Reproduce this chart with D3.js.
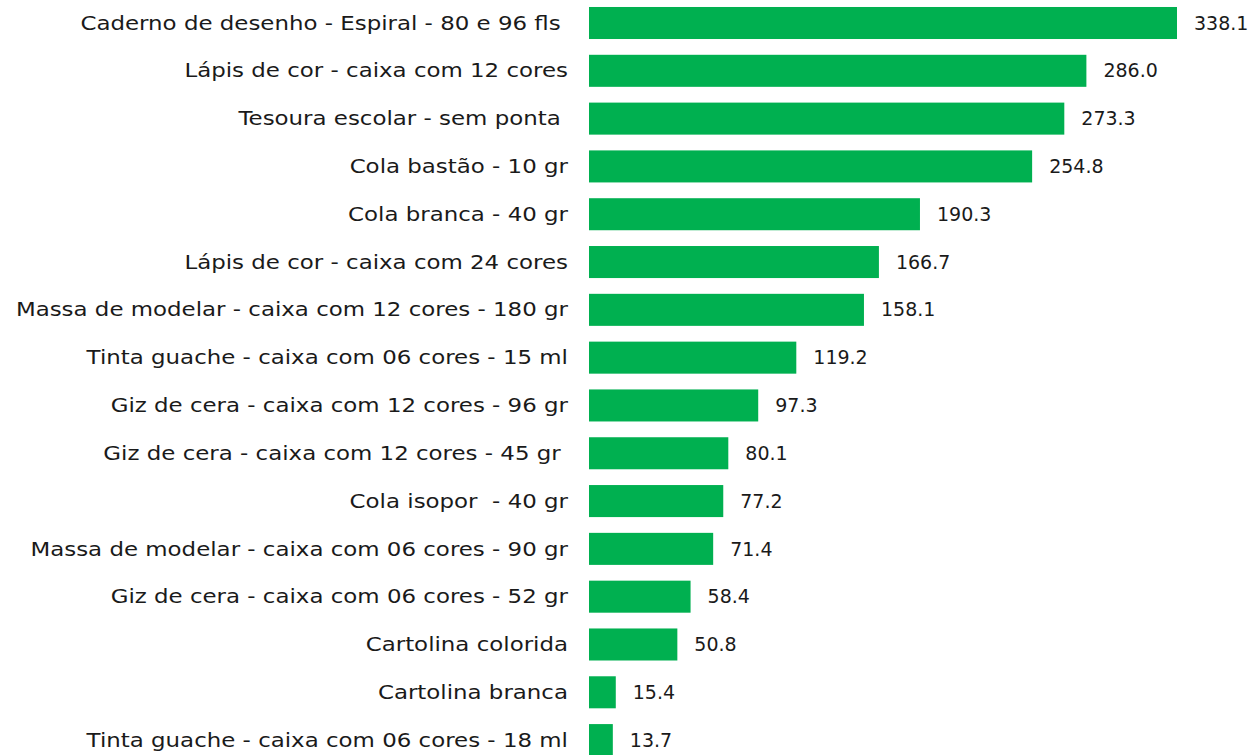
<!DOCTYPE html>
<html>
<head>
<meta charset="utf-8">
<script src="https://cdn.jsdelivr.net/npm/d3@7"></script>
<style>
  body { margin: 0; background: #fff; }
  text { font-family: "Century Gothic", "DejaVu Sans", sans-serif; fill: #1a1a1a; }
</style>
</head>
<body>
<svg id="chart" width="1256" height="755"></svg>
<script>
//categories and values (trailing spaces kept as in source)
var items = [
	'Caderno de desenho - Espiral - 80 e 96 fls ',
	'Lápis de cor - caixa com 12 cores',
	'Tesoura escolar - sem ponta ',
	'Cola bastão - 10 gr',
	'Cola branca - 40 gr',
	'Lápis de cor - caixa com 24 cores',
	'Massa de modelar - caixa com 12 cores - 180 gr',
	'Tinta guache - caixa com 06 cores - 15 ml',
	'Giz de cera - caixa com 12 cores - 96 gr',
	'Giz de cera - caixa com 12 cores - 45 gr ',
	'Cola isopor  - 40 gr',
	'Massa de modelar - caixa com 06 cores - 90 gr',
	'Giz de cera - caixa com 06 cores - 52 gr',
	'Cartolina colorida',
	'Cartolina branca',
	'Tinta guache - caixa com 06 cores - 18 ml'
];
var values = [338.1, 286.0, 273.3, 254.8, 190.3, 166.7, 158.1, 119.2, 97.3, 80.1, 77.2, 71.4, 58.4, 50.8, 15.4, 13.7];

var data = items.map(function(d, i) { return {name: d, value: values[i]}; });

var fv = {
	'barLeft': 589,
	'barRight': 1177,
	'top': -0.9,
	'bottom': 764,
	'stretch': 1.205 //fallback font is narrower than the wide original face
};

var svg = d3.select('#chart');

var x = d3.scaleLinear()
	.domain([0, 338.1])
	.range([fv.barLeft, fv.barRight]);

var y = d3.scaleBand()
	.domain(items)
	.range([fv.top, fv.bottom])
	.paddingInner(0.33)
	.paddingOuter(0.165);

//bars
svg.selectAll('.bar')
	.data(data)
	.enter().append('rect')
	.attr('class', 'bar')
	.attr('x', x(0))
	.attr('y', function(d) { return y(d.name); })
	.attr('width', function(d) { return x(d.value) - x(0); })
	.attr('height', y.bandwidth())
	.style('fill', '#00b050');

//category labels
svg.selectAll('.cat')
	.data(data)
	.enter().append('text')
	.attr('class', 'cat')
	.attr('x', x(0) - 21)
	.attr('y', function(d) { return y(d.name) + y.bandwidth() / 2; })
	.attr('dy', '0.35em')
	.attr('text-anchor', 'end')
	.style('font-size', '19px')
	.style('white-space', 'pre')
	.text(function(d) { return d.name; })
	.each(function() {
		var w = this.getComputedTextLength();
		d3.select(this)
			.attr('textLength', w * fv.stretch)
			.attr('lengthAdjust', 'spacingAndGlyphs');
	});

//value labels
svg.selectAll('.val')
	.data(data)
	.enter().append('text')
	.attr('class', 'val')
	.attr('x', function(d) { return x(d.value) + 17; })
	.attr('y', function(d) { return y(d.name) + y.bandwidth() / 2; })
	.attr('dy', '0.35em')
	.style('font-size', '19px')
	.text(function(d) { return d.value.toFixed(1); });
</script>
</body>
</html>
